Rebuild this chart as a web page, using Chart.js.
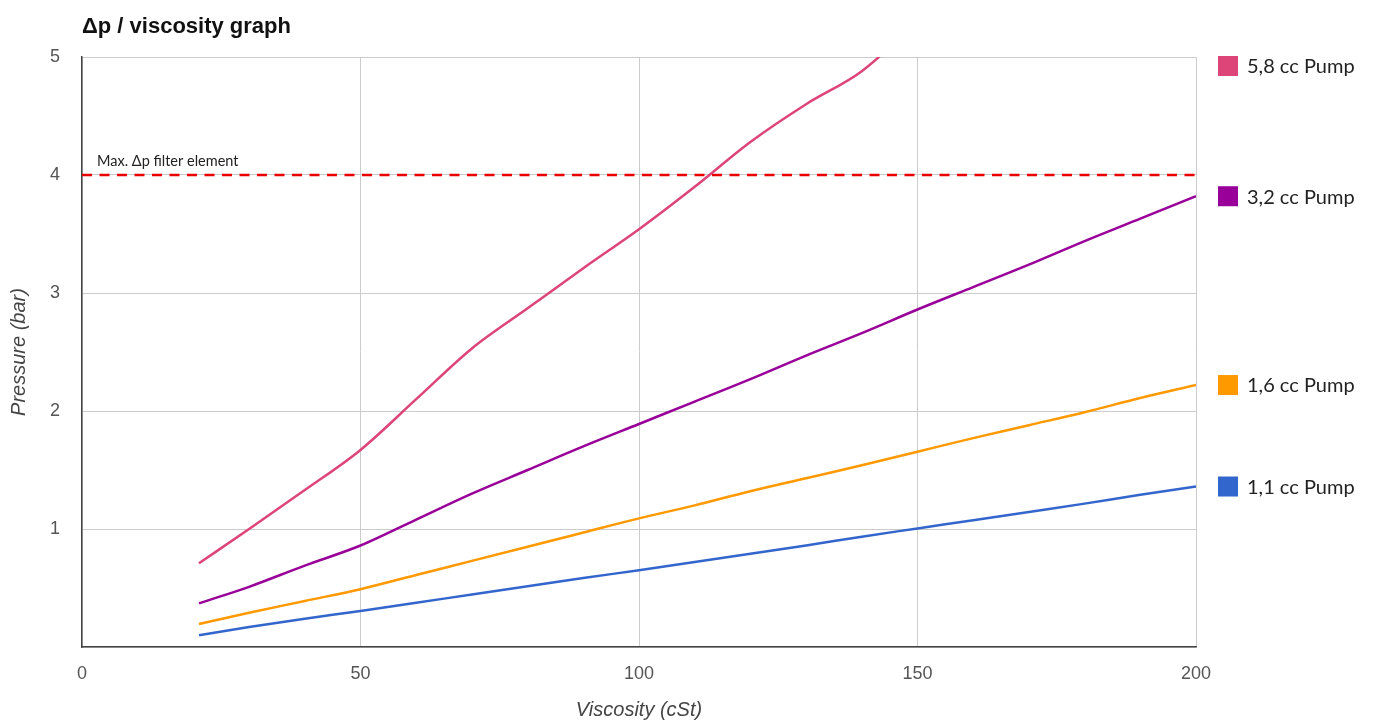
<!DOCTYPE html>
<html><head><meta charset="utf-8">
<script src="https://cdn.jsdelivr.net/npm/chart.js@4/dist/chart.umd.min.js"></script>
<style>html,body{margin:0;padding:0;background:#fff;}#wrap{position:relative;width:1375px;height:722px;}</style>
</head><body><div id="wrap"><canvas id="c" width="1375" height="722"></canvas></div>
<script>
const chartTitle = 'Δp / viscosity graph';
const xTitle = 'Viscosity (cSt)';
const yTitle = 'Pressure (bar)';
const viscosity = [21,30,40,50,60,70,80,90,100,110,120,130,140,150,160,170,180,190,200];
const pump58 = [0.71,1.00,1.33,1.67,2.10,2.53,2.87,3.21,3.54,3.90,4.28,4.60,4.88,5.30,null,null,null,null,null];
const pump32 = [0.37,0.51,0.69,0.86,1.08,1.30,1.50,1.70,1.89,2.08,2.27,2.47,2.66,2.86,3.05,3.24,3.44,3.63,3.82];
const pump16 = [0.195,0.29,0.39,0.49,0.61,0.73,0.85,0.97,1.09,1.20,1.32,1.43,1.54,1.655,1.77,1.88,1.99,2.11,2.22];
const pump11 = [0.10,0.17,0.24,0.305,0.375,0.445,0.515,0.585,0.65,0.72,0.79,0.86,0.935,1.005,1.075,1.145,1.215,1.29,1.36];
const seriesNames = ['5,8 cc Pump','3,2 cc Pump','1,6 cc Pump','1,1 cc Pump'];
const seriesColors = ['#dd4477','#990099','#ff9900','#3366cc'];
const seriesValues = [pump58, pump32, pump16, pump11];
const xTicks = [0,50,100,150,200];
const yTicks = [1,2,3,4,5];
const maxDp = 4;
const maxDpLabel = 'Max. Δp filter element';
const xRange = [0,200];
const yRange = [0,5];

const toPts = arr => viscosity.map((x,i)=>({x, y: arr[i]})).filter(p=>p.y!==null);
const datasets = seriesValues.map((arr,i)=>({
  label: seriesNames[i], data: toPts(arr), borderColor: seriesColors[i], backgroundColor: seriesColors[i],
  borderWidth: 2.5, pointRadius: 0, cubicInterpolationMode: 'monotone', fill: false
}));
datasets.push({label:'limit', data:[{x:xRange[0],y:maxDp},{x:xRange[1],y:maxDp}], borderColor:'#e60000',
  borderWidth:2.5, borderDash:[10,7.5], pointRadius:0, fill:false});

const sans = "'Liberation Sans', Arial, sans-serif";
const lato = "Lato, 'Noto Sans', sans-serif";

const deco = {
  id:'deco',
  afterDraw(chart){
    const ctx = chart.ctx, ca = chart.chartArea, ys = chart.scales.y;
    ctx.save();
    ctx.fillStyle = '#111'; ctx.font = 'bold 22px ' + sans; ctx.textBaseline = 'alphabetic'; ctx.textAlign='left';
    ctx.fillText(chartTitle, ca.left, 33);
    ctx.fillStyle = '#444'; ctx.font = 'italic 20px ' + sans; ctx.textAlign='center'; ctx.textBaseline='middle';
    ctx.fillText(xTitle, (ca.left+ca.right)/2, 710);
    ctx.save(); ctx.translate(19, (ca.top+ca.bottom)/2); ctx.rotate(-Math.PI/2); ctx.fillText(yTitle, 0, 0); ctx.restore();
    ctx.fillStyle = '#222'; ctx.font = '14.5px ' + lato; ctx.textAlign='left'; ctx.textBaseline='alphabetic';
    ctx.fillText(maxDpLabel, ca.left + 15, ys.getPixelForValue(maxDp) - 9);
    ctx.font = '20px ' + lato; ctx.textBaseline='middle';
    seriesValues.forEach((arr,i)=>{
      const vals = arr.filter(v=>v!==null);
      const last = Math.min(vals[vals.length-1], yRange[1]);
      const y = Math.max(ys.getPixelForValue(last), ca.top + 9);
      ctx.fillStyle = seriesColors[i];
      ctx.fillRect(ca.right + 22, y - 10, 20, 20);
      ctx.fillStyle = '#222';
      ctx.fillText(seriesNames[i], ca.right + 51, y + 1);
    });
    ctx.restore();
  }
};

new Chart(document.getElementById('c'), {
  type:'line',
  data:{datasets},
  options:{
    responsive:false, animation:false, events:[],
    layout:{padding:{top:57,right:179,bottom:0,left:0}},
    plugins:{legend:{display:false}, title:{display:false}, tooltip:{enabled:false}},
    scales:{
      x:{type:'linear', min:xRange[0], max:xRange[1],
        afterFit(s){s.height=75;},
        afterBuildTicks(s){s.ticks = xTicks.map(v=>({value:v}));},
        grid:{color:'#cccccc', lineWidth:1, drawTicks:false},
        border:{color:'#444', width:1.5},
        ticks:{font:{family:sans,size:18}, color:'#555', padding:16, maxRotation:0}},
      y:{type:'linear', min:yRange[0], max:yRange[1],
        afterFit(s){s.width=82;},
        afterBuildTicks(s){s.ticks = [0].concat(yTicks).map(v=>({value:v}));},
        grid:{color:'#cccccc', lineWidth:1, drawTicks:false},
        border:{color:'#444', width:1.5},
        ticks:{font:{family:sans,size:18}, color:'#555', padding:22, callback:v=> yTicks.includes(v)? String(v):''}}
    }
  },
  plugins:[deco]
});
</script></body></html>
